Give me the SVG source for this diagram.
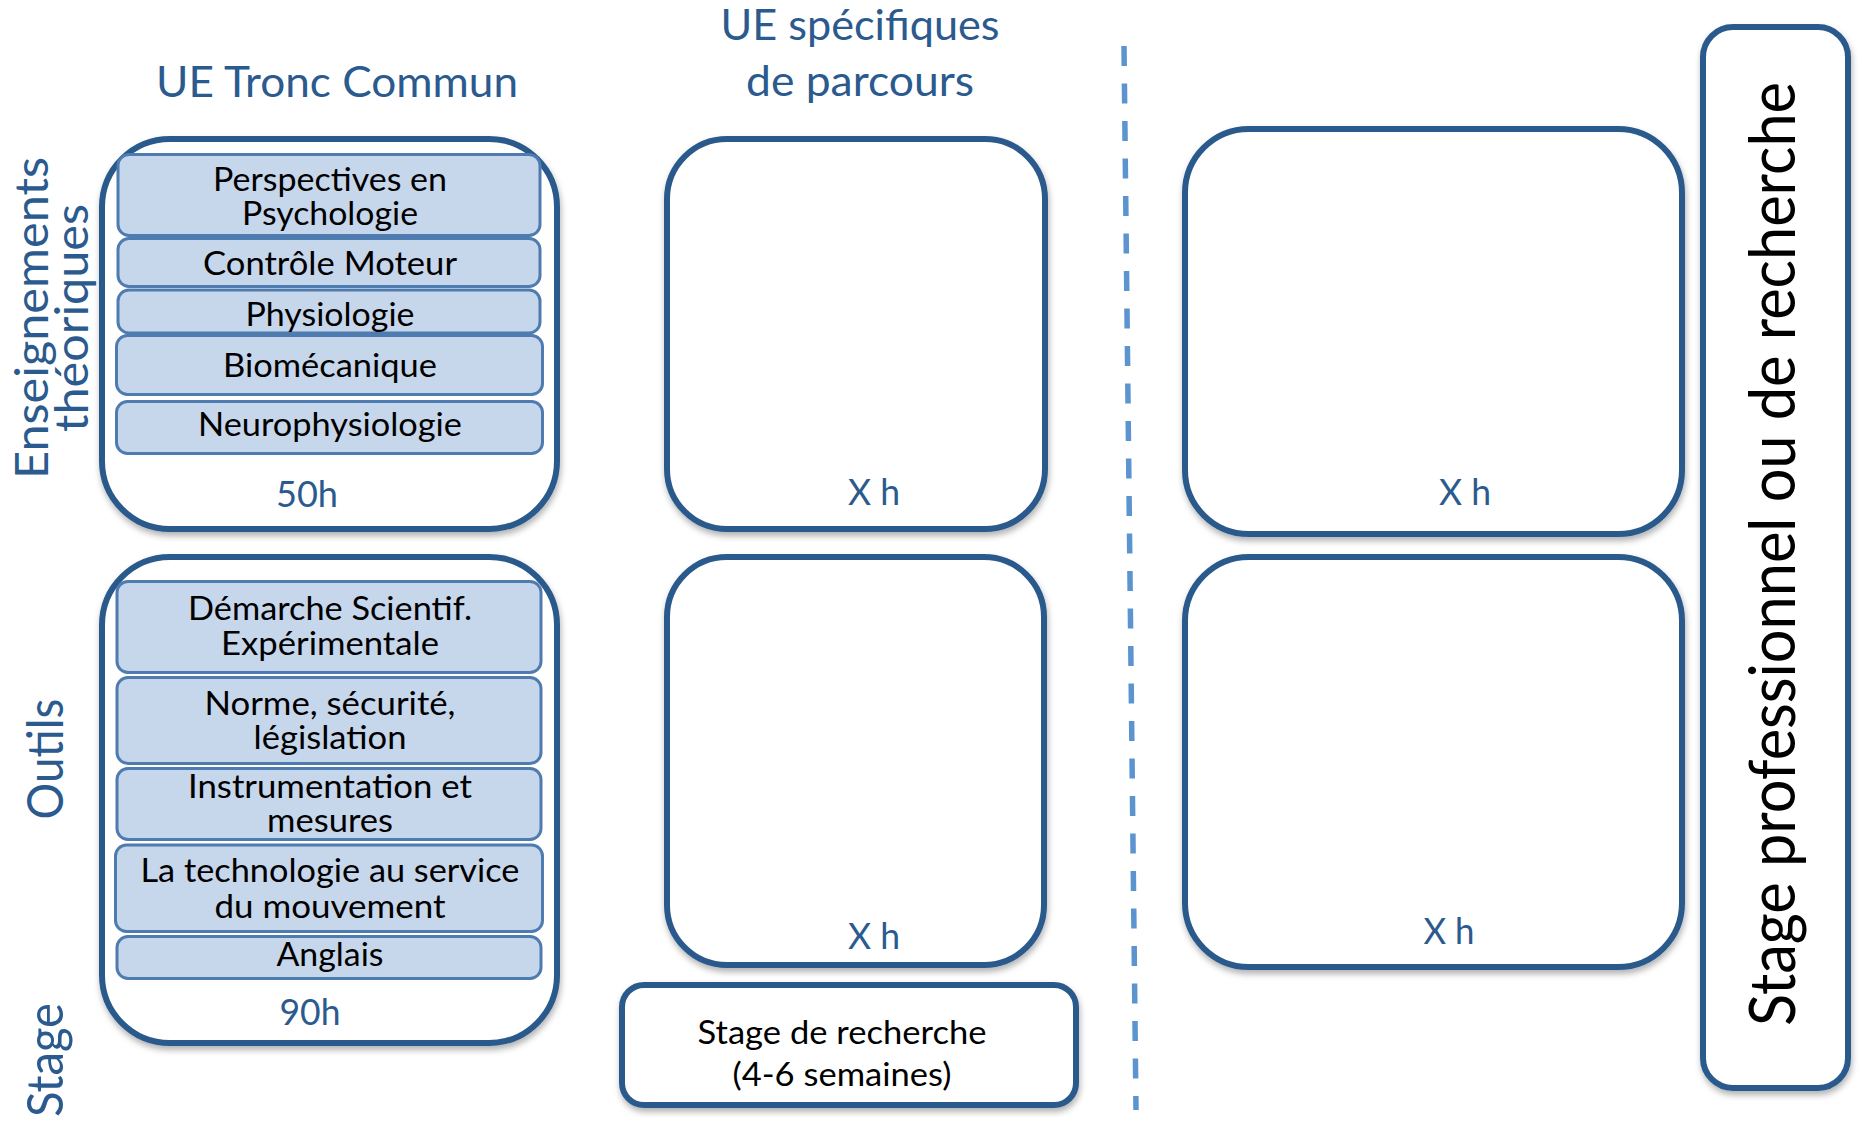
<svg xmlns="http://www.w3.org/2000/svg" width="1864" height="1124" viewBox="0 0 1864 1124">
<style>
  .outer{fill:#FFFFFF;stroke:#2C5A8C;stroke-width:6;filter:url(#sh)}
  .inner{fill:#C6D6EB;stroke:#4E7BB0;stroke-width:3}
  .lbl{font-family:Lato,"Open Sans",sans-serif;fill:#2B5A8E;text-anchor:middle}
  .txt{font-family:Lato,"Open Sans",sans-serif;fill:#000000;text-anchor:middle;font-size:32px}
  .hrs{font-family:Lato,"Open Sans",sans-serif;fill:#2B5A8E;text-anchor:middle;font-size:37px}
  .dash{stroke:#5B94CE;stroke-width:5.5;stroke-dasharray:20 17.5;fill:none}
</style>
<defs>
  <filter id="sh" x="-10%" y="-10%" width="120%" height="120%">
    <feDropShadow dx="1" dy="4" stdDeviation="3" flood-color="#000000" flood-opacity="0.3"/>
  </filter>
</defs>
<rect width="1864" height="1124" fill="#FFFFFF"/>

<g id="titles">
  <text class="lbl" x="337" y="97" font-size="43" textLength="362" lengthAdjust="spacingAndGlyphs">UE Tronc Commun</text>
  <text class="lbl" x="860" y="40" font-size="43" textLength="279" lengthAdjust="spacingAndGlyphs">UE spécifiques</text>
  <text class="lbl" x="860" y="96" font-size="43" textLength="228" lengthAdjust="spacingAndGlyphs">de parcours</text>
</g>

<g id="row-labels">
  <text class="lbl" font-size="46" transform="translate(48,318) rotate(-90)" textLength="322" lengthAdjust="spacingAndGlyphs">Enseignements</text>
  <text class="lbl" font-size="46" transform="translate(88,318) rotate(-90)" textLength="228" lengthAdjust="spacingAndGlyphs">théoriques</text>
  <text class="lbl" font-size="50" transform="translate(63,759) rotate(-90)" textLength="121" lengthAdjust="spacingAndGlyphs">Outils</text>
  <text class="lbl" font-size="50" transform="translate(63,1060) rotate(-90)" textLength="114" lengthAdjust="spacingAndGlyphs">Stage</text>
</g>

<g id="connectors">
  <line class="dash" x1="1124" y1="46" x2="1136" y2="1110"/>
</g>

<g id="tronc-theorique">
  <rect class="outer" x="102" y="139" width="455" height="390" rx="68"/>
  <rect class="inner" x="118" y="154.5" width="422" height="81" rx="11"/>
  <rect class="inner" x="118" y="238.5" width="422" height="48" rx="11"/>
  <rect class="inner" x="118" y="290" width="422" height="43" rx="11"/>
  <rect class="inner" x="116.5" y="335.5" width="426" height="59" rx="11"/>
  <rect class="inner" x="116.5" y="401.5" width="426" height="52" rx="11"/>
  <text class="txt" x="330" y="191" textLength="234" lengthAdjust="spacingAndGlyphs">Perspectives en</text>
  <text class="txt" x="330" y="225" textLength="176" lengthAdjust="spacingAndGlyphs">Psychologie</text>
  <text class="txt" x="330" y="275" textLength="254" lengthAdjust="spacingAndGlyphs">Contrôle Moteur</text>
  <text class="txt" x="330" y="326" textLength="169" lengthAdjust="spacingAndGlyphs">Physiologie</text>
  <text class="txt" x="330" y="377" textLength="214" lengthAdjust="spacingAndGlyphs">Biomécanique</text>
  <text class="txt" x="330" y="436" textLength="264" lengthAdjust="spacingAndGlyphs">Neurophysiologie</text>
  <text class="hrs" x="307" y="507" textLength="62" lengthAdjust="spacingAndGlyphs">50h</text>
</g>

<g id="tronc-outils">
  <rect class="outer" x="102" y="557" width="455" height="486" rx="68"/>
  <rect class="inner" x="117" y="581.5" width="424" height="91" rx="11"/>
  <rect class="inner" x="117" y="677.5" width="424" height="86" rx="11"/>
  <rect class="inner" x="117" y="768.5" width="424" height="71" rx="11"/>
  <rect class="inner" x="115.5" y="845" width="427" height="86.5" rx="11"/>
  <rect class="inner" x="117" y="936.5" width="424" height="42" rx="11"/>
  <text class="txt" x="330" y="620" textLength="284" lengthAdjust="spacingAndGlyphs">Démarche Scientif.</text>
  <text class="txt" x="330" y="655" textLength="218" lengthAdjust="spacingAndGlyphs">Expérimentale</text>
  <text class="txt" x="330" y="715" textLength="251" lengthAdjust="spacingAndGlyphs">Norme, sécurité,</text>
  <text class="txt" x="330" y="749" textLength="153" lengthAdjust="spacingAndGlyphs">législation</text>
  <text class="txt" x="330" y="798" textLength="284" lengthAdjust="spacingAndGlyphs">Instrumentation et</text>
  <text class="txt" x="330" y="832" textLength="126" lengthAdjust="spacingAndGlyphs">mesures</text>
  <text class="txt" x="330" y="882" textLength="379" lengthAdjust="spacingAndGlyphs">La technologie au service</text>
  <text class="txt" x="330" y="918" textLength="231" lengthAdjust="spacingAndGlyphs">du mouvement</text>
  <text class="txt" x="330" y="966" textLength="107" lengthAdjust="spacingAndGlyphs">Anglais</text>
  <text class="hrs" x="310" y="1025" textLength="61" lengthAdjust="spacingAndGlyphs">90h</text>
</g>

<g id="specifique-theorique">
  <rect class="outer" x="667" y="139" width="378" height="390" rx="60"/>
  <text class="hrs" x="874" y="505" textLength="52" lengthAdjust="spacingAndGlyphs">X h</text>
</g>

<g id="specifique-outils">
  <rect class="outer" x="667" y="557" width="377" height="408" rx="60"/>
  <text class="hrs" x="874" y="949" textLength="52" lengthAdjust="spacingAndGlyphs">X h</text>
</g>

<g id="stage-recherche">
  <rect class="outer" x="622" y="985" width="454" height="120" rx="22"/>
  <text class="txt" x="842" y="1044" textLength="289" lengthAdjust="spacingAndGlyphs">Stage de recherche</text>
  <text class="txt" x="842" y="1086" textLength="219" lengthAdjust="spacingAndGlyphs">(4-6 semaines)</text>
</g>

<g id="s2-theorique">
  <rect class="outer" x="1185" y="129" width="497" height="405" rx="64"/>
  <text class="hrs" x="1465" y="505" textLength="52" lengthAdjust="spacingAndGlyphs">X h</text>
</g>

<g id="s2-outils">
  <rect class="outer" x="1185" y="557" width="497" height="410" rx="64"/>
  <text class="hrs" x="1449" y="944" textLength="51" lengthAdjust="spacingAndGlyphs">X h</text>
</g>

<g id="stage-pro">
  <rect class="outer" x="1703" y="27" width="145" height="1061" rx="30"/>
  <text font-family="Lato, 'Open Sans', sans-serif" font-size="64" fill="#000000" text-anchor="middle" transform="translate(1795,554) rotate(-90)" textLength="944" lengthAdjust="spacingAndGlyphs">Stage professionnel ou de recherche</text>
</g>
</svg>
